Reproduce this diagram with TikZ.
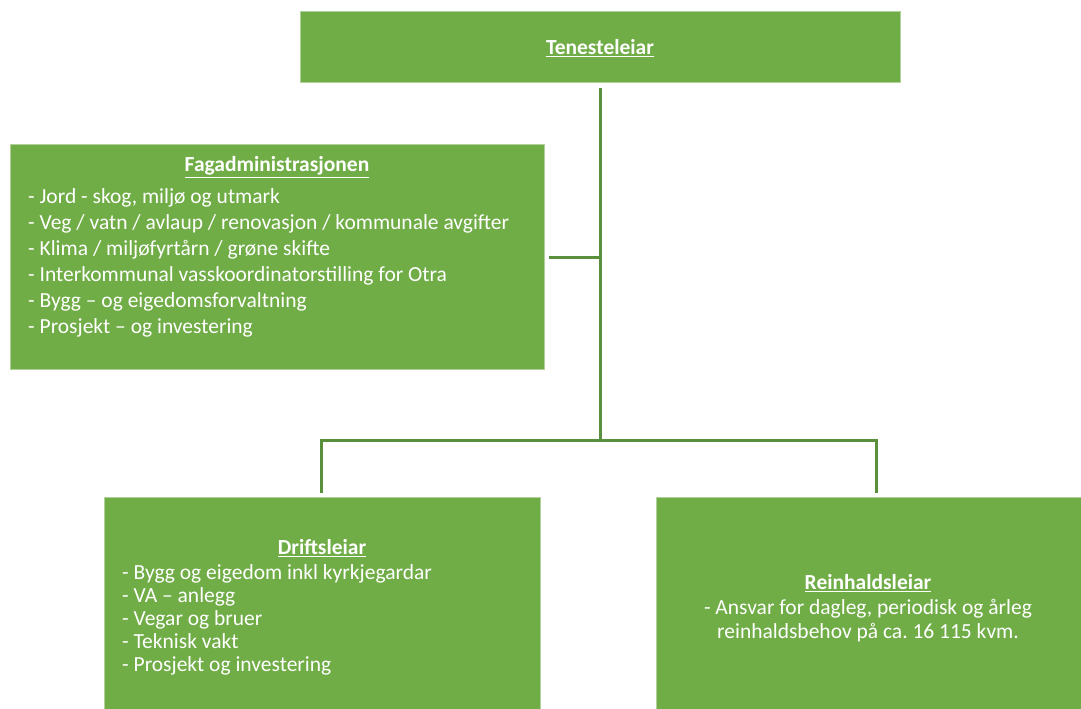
\documentclass[tikz,border=0pt]{standalone}
\usepackage{fontspec}
\setmainfont{Carlito}
\frenchspacing
\definecolor{boxgreen}{HTML}{70AD47}
\definecolor{linegreen}{HTML}{5A8F3C}
\begin{document}
\begin{tikzpicture}[x=1pt,y=-1pt,
  box/.style={fill=boxgreen, draw=boxgreen!55!white, line width=0.5pt, inner sep=0pt, anchor=north west},
  conn/.style={draw=linegreen, line width=3pt},
  txt/.style={text=white, inner sep=0pt, font=\fontsize{21.5}{26}\selectfont},
  head/.style={txt, font=\fontsize{21.5}{26}\selectfont\bfseries}]
\useasboundingbox (0,0) rectangle (1081,709);
% boxes
\node[box, minimum width=600pt, minimum height=71pt] (ten) at (300,11) {};
\node[box, minimum width=534pt, minimum height=225pt] (fag) at (10,144) {};
\node[box, minimum width=436pt, minimum height=214pt] (drift) at (104,497) {};
\node[box, minimum width=425pt, minimum height=214pt] (rein) at (656,497) {};
% texts
\node[head] (tent) at (600,48) {\underline{Tenesteleiar}};
\node[head] (fagt) at (277,167) {\underline{Fagadministrasjonen}};
\node[txt, align=left, anchor=north west] (fagl) at (28,188) {- Jord - skog, miljø og utmark\\
- Veg / vatn / avlaup / renovasjon / kommunale avgifter\\
- Klima / miljøfyrtårn / grøne skifte\\
- Interkommunal vasskoordinatorstilling for Otra\\
- Bygg – og eigedomsforvaltning\\
- Prosjekt – og investering};
\node[head] (driftt) at (322,548) {\underline{Driftsleiar}};
\node[txt, align=left, anchor=north west, font=\fontsize{21.5}{23}\selectfont] (driftl) at (122,564) {- Bygg og eigedom inkl kyrkjegardar\\
- VA – anlegg\\
- Vegar og bruer\\
- Teknisk vakt\\
- Prosjekt og investering};
\node[head] (reint) at (868,583) {\underline{Reinhaldsleiar}};
\node[txt, align=center, anchor=north, font=\fontsize{21.5}{24}\selectfont] (reinl) at (868,599) {- Ansvar for dagleg, periodisk og årleg\\
reinhaldsbehov på ca. 16 115 kvm.};
% connectors
\coordinate (top) at (600,88);
\coordinate (mid) at (600,257);
\coordinate (fagend) at (549,257);
\coordinate (bar) at (600,440);
\coordinate (barl) at (321,440);
\coordinate (barr) at (876,440);
\coordinate (dl) at (321,493);
\coordinate (rr) at (876,493);
\draw[conn] (top) -- (bar);
\draw[conn] (mid) -- (fagend);
\draw[conn, line join=miter] (dl) -- (barl) -- (barr) -- (rr);
\end{tikzpicture}
\end{document}
